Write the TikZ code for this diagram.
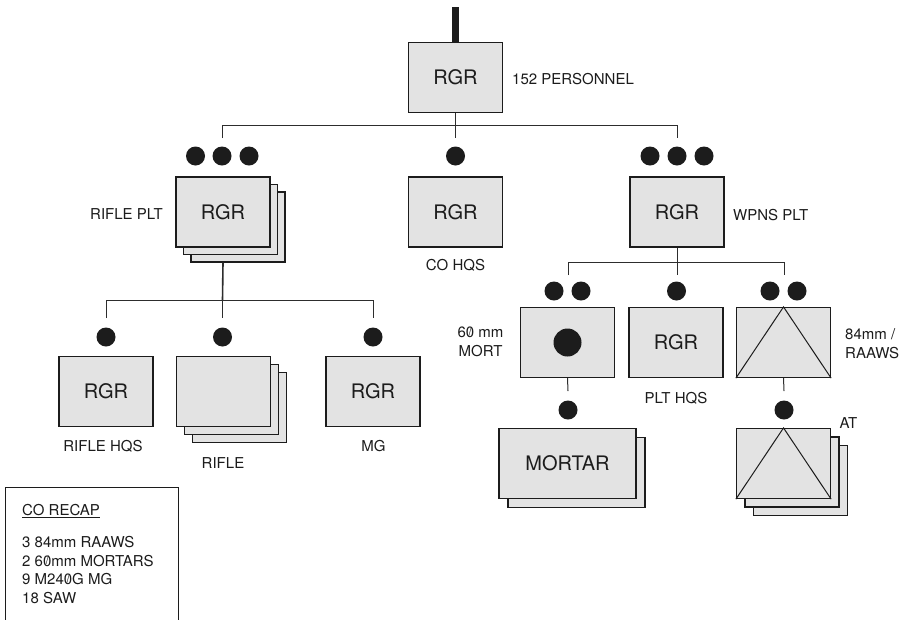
\documentclass[tikz,border=0pt]{standalone}
\usepackage{fontspec}
\setmainfont{TeX Gyre Heros}
\usepackage{graphicx}
\newcommand\zsl{\ooalign{0\cr\hidewidth\raisebox{.1em}{\scalebox{.7}[.78]{/}}\hidewidth\cr}}
\definecolor{boxgray}{RGB}{227,227,227}
\definecolor{ink}{RGB}{28,28,28}
\definecolor{wire}{RGB}{45,45,45}
\begin{document}
\begin{tikzpicture}[x=1pt,y=-1pt,
  unit/.style={draw=ink,fill=boxgray,line width=1.2pt,minimum width=94pt,minimum height=70pt,inner sep=0pt,text=ink,font=\fontsize{20}{24}\selectfont},
  wideunit/.style={unit,minimum width=137pt},
  ech/.style={circle,fill=ink,draw=none,inner sep=0pt,minimum size=19pt},
  lbl/.style={font=\fontsize{15}{16}\selectfont,inner sep=0pt,text=ink},
  conn/.style={draw=wire,line width=1pt},
  tri/.style={draw=ink,line width=1pt}]
\useasboundingbox (0,0) rectangle (909,619);
\fill[white] (0,0) rectangle (909,619);

% ---------- company ----------
\node[unit] (co) at (455.5,77.5) {RGR};
\coordinate (hq) at (455.5,7);
\draw[ink,line width=7.5pt] (hq) -- (co.north);
\node[lbl,anchor=base west] (pers) at (512,84.5) {152 PERSONNEL};

\coordinate (b0) at (455.5,125);
\coordinate (t1) at (222,125);
\coordinate (t1e) at (222,138);
\coordinate (t2e) at (455.5,138);
\coordinate (t3) at (677,125);
\coordinate (t3e) at (677,138);
\draw[conn] (co.south) -- (b0);
\draw[conn] (t1e) -- (t1) -- (t3) -- (t3e);
\draw[conn] (b0) -- (t2e);

% ---------- rifle platoon ----------
\node[ech] (rpd1) at (195.5,156) {};
\node[ech] (rpd2) at (222,156) {};
\node[ech] (rpd3) at (249,156) {};
\node[unit] (rp3) at (238,227) {};
\node[unit] (rp2) at (230.5,219.5) {};
\node[unit] (rp) at (223,212) {RGR};
\node[lbl,anchor=base east] (rpl) at (163,219.5) {RIFLE PLT};

% ---------- CO HQS ----------
\node[ech] (hqd) at (455.5,156) {};
\node[unit] (hqs) at (455.5,212) {RGR};
\node[lbl,anchor=base] (hqsl) at (455.5,270.5) {CO HQS};

% ---------- weapons platoon ----------
\node[ech] (wpd1) at (650,156) {};
\node[ech] (wpd2) at (677,156) {};
\node[ech] (wpd3) at (704,156) {};
\node[unit] (wp) at (677,212) {RGR};
\node[lbl,anchor=base west] (wpl) at (733,220.5) {WPNS PLT};

% ---------- rifle platoon subordinates ----------
\coordinate (r0) at (222.5,300);
\coordinate (r1) at (106,300);
\coordinate (r1e) at (106,318);
\coordinate (r2e) at (222.5,318);
\coordinate (r3) at (373,300);
\coordinate (r3e) at (373,318);
\draw[conn,line width=1.6pt] (rp.center |- rp3.south) -- (r0);
\draw[conn] (r1e) -- (r1) -- (r3) -- (r3e);
\draw[conn] (r0) -- (r2e);

\node[ech] (rhd) at (106,337) {};
\node[ech] (rfd) at (222.5,337) {};
\node[ech] (mgd) at (373,337) {};

\node[unit] (rhq) at (106,391.5) {RGR};
\node[lbl,anchor=base] (rhql) at (103,451.5) {RIFLE HQS};

\node[unit] (rf3) at (239.5,407.5) {};
\node[unit] (rf2) at (231.5,399.5) {};
\node[unit] (rf) at (223.5,391.5) {};
\node[lbl,anchor=base] (rfl) at (223,468.5) {RIFLE};

\node[unit] (mg) at (373,391.5) {RGR};
\node[lbl,anchor=base] (mgl) at (373.5,451.5) {MG};

% ---------- weapons platoon subordinates ----------
\coordinate (w0) at (677,262);
\coordinate (w1) at (568,262);
\coordinate (w1e) at (568,275);
\coordinate (w2e) at (677,275);
\coordinate (w3) at (784,262);
\coordinate (w3e) at (784,275);
\draw[conn] (wp.south) -- (w0);
\draw[conn] (w1e) -- (w1) -- (w3) -- (w3e);
\draw[conn] (w0) -- (w2e);

\node[ech] (mod1) at (554,291) {};
\node[ech] (mod2) at (581,291) {};
\node[ech] (phd) at (676.5,291) {};
\node[ech] (atd1) at (770,291) {};
\node[ech] (atd2) at (797,291) {};

\node[unit] (mort) at (567.5,342.5) {};
\node[circle,fill=ink,inner sep=0pt,minimum size=28pt] (mdot) at (mort.center) {};
\node[lbl,anchor=base] (mortl1) at (480.5,337.5) {6\zsl{} mm};
\node[lbl,anchor=base] (mortl2) at (480.5,356.5) {MORT};

\node[unit] (phq) at (676,342.5) {RGR};
\node[lbl,anchor=base] (phql) at (676,403.5) {PLT HQS};

\node[unit] (aw) at (783.5,342.5) {};
\draw[tri] (aw.south west) -- (aw.north) -- (aw.south east);
\node[lbl,anchor=base west] (awl1) at (845,339.5) {84mm /};
\node[lbl,anchor=base west] (awl2) at (845,358.5) {RAAWS};

% mortar section
\coordinate (m1e) at (568,391);
\draw[conn] (mort.south) -- (m1e);
\node[ech] (msd) at (568,410) {};
\node[wideunit] (ms2) at (576.5,472.5) {};
\node[wideunit] (ms) at (567.5,463.5) {MORTAR};

% anti-tank section
\coordinate (a1e) at (784,391);
\draw[conn] (aw.south) -- (a1e);
\node[ech] (asd) at (784,410) {};
\node[unit] (as3) at (800.5,480.5) {};
\node[unit] (as2) at (792,472) {};
\node[unit] (as) at (783.5,463.5) {};
\draw[tri] (as.south west) -- (as.north) -- (as.south east);
\node[lbl,anchor=base] (asl) at (848.5,428.5) {AT};

% ---------- recap ----------
\draw[ink,line width=1pt] (5,640) -- (5,487) -- (178,487) -- (178,640);
\node[lbl,anchor=base west] (rt) at (22,515.5) {CO RECAP};
\draw[ink,line width=0.8pt] ([yshift=-2pt]rt.base west) -- ([yshift=-2pt]rt.base east);
\node[lbl,anchor=base west] (rc1) at (22,547.5) {3 84mm RAAWS};
\node[lbl,anchor=base west] (rc2) at (22,566) {2 6\zsl mm MORTARS};
\node[lbl,anchor=base west] (rc3) at (22,584.5) {9 M24\zsl G MG};
\node[lbl,anchor=base west] (rc4) at (22,603) {18 SAW};
\end{tikzpicture}
\end{document}
